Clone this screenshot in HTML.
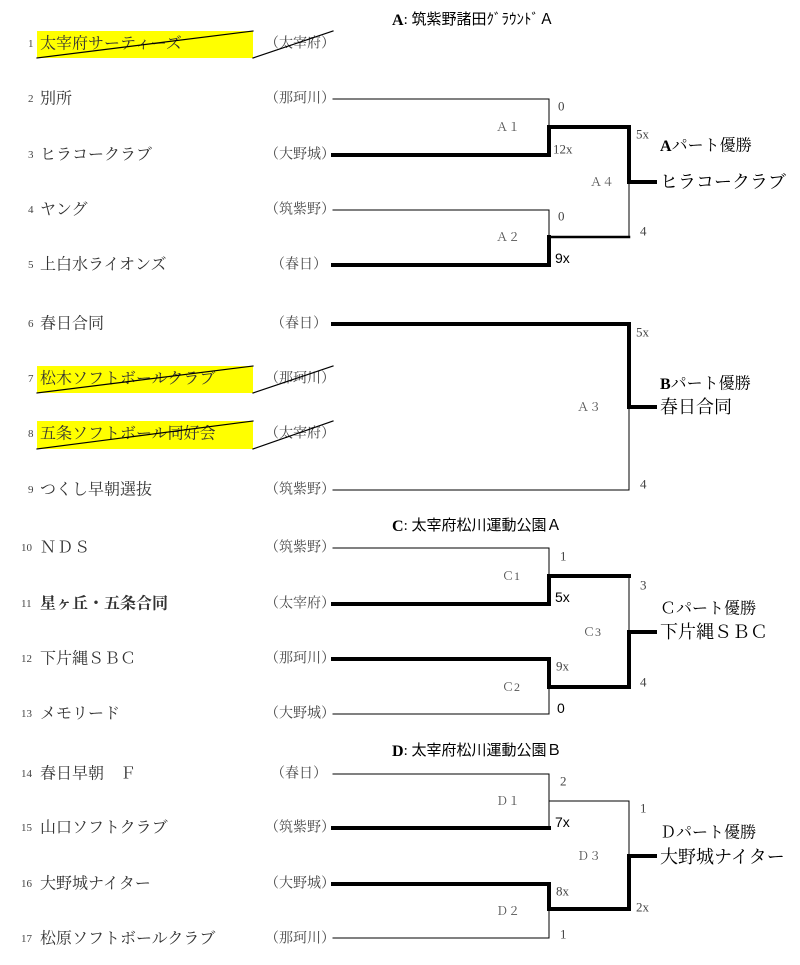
<!DOCTYPE html>
<html><head><meta charset="utf-8"><style>
html,body{margin:0;padding:0;background:#fff;}
svg{display:block;}
.n{font-family:"Liberation Serif","Noto Serif CJK JP",serif;font-size:16px;fill:#333;}
.num{font-family:"Liberation Serif",serif;font-size:11px;fill:#444;}
.p{font-family:"Liberation Serif","Noto Serif CJK JP",serif;font-size:14px;fill:#444;}
.m{font-family:"Liberation Serif","Noto Serif CJK JP",serif;font-size:12px;fill:#555;}
.s{font-family:"Liberation Serif",serif;font-size:13px;fill:#444;}
.sb{font-family:"Liberation Sans",sans-serif;font-size:14px;fill:#000;}
.h{font-family:"Liberation Serif","Noto Sans CJK JP",sans-serif;font-size:15px;fill:#000;}
.w1{font-family:"Liberation Serif","Noto Serif CJK JP",serif;font-size:16px;fill:#000;}
.w2{font-family:"Liberation Serif","Noto Serif CJK JP",serif;font-size:18px;fill:#000;}
</style></head><body>
<svg width="800" height="965" viewBox="0 0 800 965" xmlns="http://www.w3.org/2000/svg">
<rect x="37" y="31" width="216" height="27" fill="#ffff00"/>
<rect x="37" y="366" width="216" height="27" fill="#ffff00"/>
<rect x="37" y="421" width="216" height="28" fill="#ffff00"/>
<g dominant-baseline="central">
<text class="h" x="392" y="20"><tspan font-weight="bold" font-size="16">A</tspan>: 筑紫野諸田ｸﾞﾗｳﾝﾄﾞＡ</text>
<text class="h" x="392" y="526"><tspan font-weight="bold" font-size="16">C</tspan>: 太宰府松川運動公園Ａ</text>
<text class="h" x="392" y="751"><tspan font-weight="bold" font-size="16">D</tspan>: 太宰府松川運動公園Ｂ</text>

<text class="num" x="28" y="44">1</text><text class="n" x="40" y="44">太宰府サーティーズ</text><text class="p" x="265" y="44">（太宰府）</text>
<text class="num" x="28" y="99">2</text><text class="n" x="40" y="99">別所</text><text class="p" x="265" y="99">（那珂川）</text>
<text class="num" x="28" y="155">3</text><text class="n" x="40" y="155">ヒラコークラブ</text><text class="p" x="265" y="155">（大野城）</text>
<text class="num" x="28" y="210">4</text><text class="n" x="40" y="210">ヤング</text><text class="p" x="265" y="210">（筑紫野）</text>
<text class="num" x="28" y="265">5</text><text class="n" x="40" y="265">上白水ライオンズ</text><text class="p" x="271" y="265">（春日）</text>
<text class="num" x="28" y="324">6</text><text class="n" x="40" y="324">春日合同</text><text class="p" x="271" y="324">（春日）</text>
<text class="num" x="28" y="379">7</text><text class="n" x="40" y="379">松木ソフトボールクラブ</text><text class="p" x="265" y="379">（那珂川）</text>
<text class="num" x="28" y="434">8</text><text class="n" x="40" y="434">五条ソフトボール同好会</text><text class="p" x="265" y="434">（太宰府）</text>
<text class="num" x="28" y="490">9</text><text class="n" x="40" y="490">つくし早朝選抜</text><text class="p" x="265" y="490">（筑紫野）</text>
<text class="num" x="21" y="548">10</text><text class="n" x="40" y="548" letter-spacing="1">ＮＤＳ</text><text class="p" x="265" y="548">（筑紫野）</text>
<text class="num" x="21" y="604">11</text><text class="n" x="40" y="604" font-weight="bold" fill="#000">星ヶ丘・五条合同</text><text class="p" x="265" y="604">（太宰府）</text>
<text class="num" x="21" y="659">12</text><text class="n" x="40" y="659">下片縄ＳＢＣ</text><text class="p" x="265" y="659">（那珂川）</text>
<text class="num" x="21" y="714">13</text><text class="n" x="40" y="714">メモリード</text><text class="p" x="265" y="714">（大野城）</text>
<text class="num" x="21" y="774">14</text><text class="n" x="40" y="774">春日早朝　Ｆ</text><text class="p" x="271" y="774">（春日）</text>
<text class="num" x="21" y="828">15</text><text class="n" x="40" y="828">山口ソフトクラブ</text><text class="p" x="265" y="828">（筑紫野）</text>
<text class="num" x="21" y="884">16</text><text class="n" x="40" y="884">大野城ナイター</text><text class="p" x="265" y="884">（大野城）</text>
<text class="num" x="21" y="939">17</text><text class="n" x="40" y="939">松原ソフトボールクラブ</text><text class="p" x="265" y="939">（那珂川）</text>

<text class="m" x="496" y="127">Ａ１</text><text class="m" x="590" y="182">Ａ４</text><text class="m" x="496" y="237">Ａ２</text>
<text class="m" x="577" y="407">Ａ３</text>
<text class="m" x="502" y="576">Ｃ1</text><text class="m" x="583" y="632">Ｃ3</text><text class="m" x="502" y="687">Ｃ2</text>
<text class="m" x="496" y="801">Ｄ１</text><text class="m" x="577" y="856">Ｄ３</text><text class="m" x="496" y="911">Ｄ２</text>

<text class="s" x="558" y="106">0</text><text class="s" x="553" y="149">12x</text>
<text class="s" x="558" y="216">0</text><text class="sb" x="555" y="258">9x</text>
<text class="s" x="636" y="134">5x</text><text class="s" x="640" y="231">4</text>
<text class="s" x="636" y="332">5x</text><text class="s" x="640" y="484">4</text>
<text class="s" x="560" y="556">1</text><text class="sb" x="555" y="597">5x</text>
<text class="s" x="556" y="666">9x</text><text class="sb" x="557" y="708">0</text>
<text class="s" x="640" y="585">3</text><text class="s" x="640" y="682">4</text>
<text class="s" x="560" y="781">2</text><text class="sb" x="555" y="822">7x</text>
<text class="s" x="556" y="891">8x</text><text class="s" x="560" y="934">1</text>
<text class="s" x="640" y="808">1</text><text class="s" x="636" y="907">2x</text>

<text class="w1" x="660" y="146"><tspan font-weight="bold">A</tspan>パート優勝</text>
<text class="w2" x="660" y="182" font-size="17">ヒラコークラブ</text>
<text class="w1" x="660" y="384"><tspan font-weight="bold">B</tspan>パート優勝</text>
<text class="w2" x="660" y="407">春日合同</text>
<text class="w1" x="660" y="609">Ｃパート優勝</text>
<text class="w2" x="660" y="632">下片縄ＳＢＣ</text>
<text class="w1" x="660" y="833">Ｄパート優勝</text>
<text class="w2" x="660" y="857">大野城ナイター</text>
</g>

<g stroke="#000" fill="none" stroke-linecap="square">
<g stroke-width="1.2">
<line x1="37" y1="58" x2="253" y2="31"/><line x1="253" y1="58" x2="333" y2="31"/>
<line x1="37" y1="393" x2="253" y2="366"/><line x1="253" y1="393" x2="333" y2="366"/>
<line x1="37" y1="449" x2="253" y2="421"/><line x1="253" y1="449" x2="333" y2="421"/>
</g>
<g stroke-width="1">
<polyline points="333,99 549,99 549,127"/>
<polyline points="333,210 549,210 549,237"/>
<line x1="629" y1="182" x2="629" y2="237"/>
<polyline points="333,490 629,490 629,407"/>
<polyline points="333,548 549,548 549,576"/>
<line x1="629" y1="576" x2="629" y2="632"/>
<polyline points="333,714 549,714 549,687"/>
<polyline points="333,774 549,774 549,828"/>
<polyline points="549,801 629,801 629,856"/>
<polyline points="333,938 549,938 549,909"/>
</g>
<g stroke-width="4">
<polyline points="333,155 549,155 549,127 629,127 629,182 655,182"/>
<polyline points="333,265 549,265 549,237"/>
<polyline points="333,324 629,324 629,407 655,407"/>
<polyline points="333,604 549,604 549,576 629,576"/>
<polyline points="333,659 549,659 549,687 629,687 629,632 655,632"/>
<line x1="333" y1="828" x2="549" y2="828"/>
<polyline points="333,884 549,884 549,909 629,909 629,856 655,856"/>
</g>
<line x1="549" y1="237" x2="629" y2="237" stroke-width="2.5"/>
</g>
</svg>
</body></html>
